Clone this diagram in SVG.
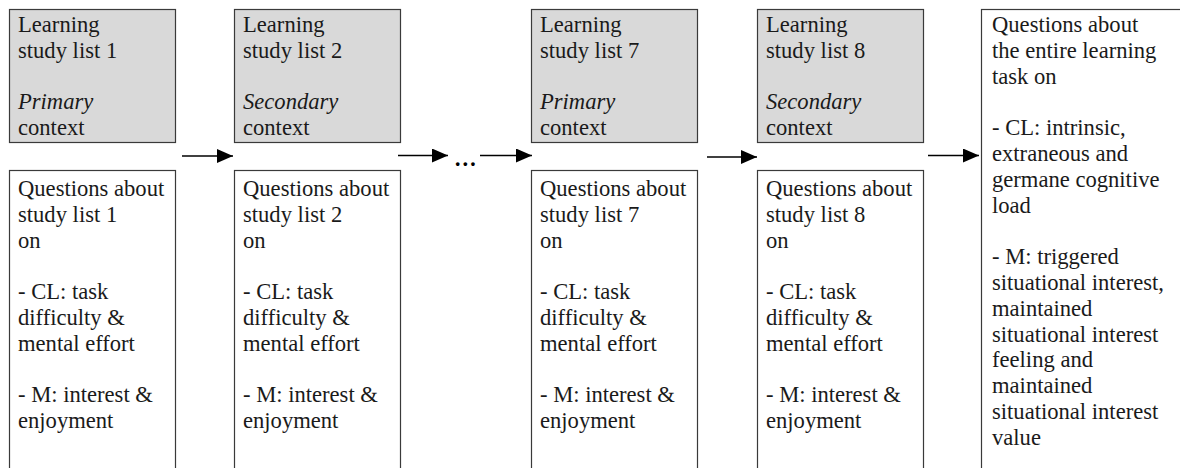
<svg xmlns="http://www.w3.org/2000/svg" width="1180" height="468" viewBox="0 0 1180 468">
<style>
.top{fill:#d9d9d9;stroke:#3a3a3a;stroke-width:1.2}
.bot{fill:#ffffff;stroke:#3a3a3a;stroke-width:1.2}
.t{font-family:'Liberation Serif','Times New Roman',Times,serif;font-size:22.6px;fill:#1a1a1a}
.it{font-style:italic}
.conn line{stroke:#000;stroke-width:1.6}
</style>
<defs>
<marker id="ah" markerUnits="userSpaceOnUse" markerWidth="16" markerHeight="14" refX="16" refY="7" orient="auto">
<path d="M0,0 L16,7 L0,14 Z" fill="#000"/>
</marker>
</defs>
<rect width="1180" height="468" fill="#fff"/>

<g id="node-list1" class="t" font-family="Liberation Serif, serif">
<rect class="top" x="9.5" y="9.5" width="166" height="133"/>
<text x="18" y="32">Learning</text>
<text x="18" y="57.8">study list 1</text>
<text x="18" y="109.4" class="it">Primary</text>
<text x="18" y="135.2">context</text>
</g>
<g id="node-q1" class="t" font-family="Liberation Serif, serif">
<rect class="bot" x="9.5" y="170.5" width="166" height="310"/>
<text x="18" y="196">Questions about</text>
<text x="18" y="221.8">study list 1</text>
<text x="18" y="247.6">on</text>
<text x="18" y="299.2">- CL: task</text>
<text x="18" y="325">difficulty &amp;</text>
<text x="18" y="350.8">mental effort</text>
<text x="18" y="402.4">- M: interest &amp;</text>
<text x="18" y="428.2">enjoyment</text>
</g>

<g id="node-list2" class="t" font-family="Liberation Serif, serif">
<rect class="top" x="234.5" y="9.5" width="166" height="133"/>
<text x="243" y="32">Learning</text>
<text x="243" y="57.8">study list 2</text>
<text x="243" y="109.4" class="it">Secondary</text>
<text x="243" y="135.2">context</text>
</g>
<g id="node-q2" class="t" font-family="Liberation Serif, serif">
<rect class="bot" x="234.5" y="170.5" width="166" height="310"/>
<text x="243" y="196">Questions about</text>
<text x="243" y="221.8">study list 2</text>
<text x="243" y="247.6">on</text>
<text x="243" y="299.2">- CL: task</text>
<text x="243" y="325">difficulty &amp;</text>
<text x="243" y="350.8">mental effort</text>
<text x="243" y="402.4">- M: interest &amp;</text>
<text x="243" y="428.2">enjoyment</text>
</g>

<g id="node-list7" class="t" font-family="Liberation Serif, serif">
<rect class="top" x="531.5" y="9.5" width="166" height="133"/>
<text x="540" y="32">Learning</text>
<text x="540" y="57.8">study list 7</text>
<text x="540" y="109.4" class="it">Primary</text>
<text x="540" y="135.2">context</text>
</g>
<g id="node-q7" class="t" font-family="Liberation Serif, serif">
<rect class="bot" x="531.5" y="170.5" width="166" height="310"/>
<text x="540" y="196">Questions about</text>
<text x="540" y="221.8">study list 7</text>
<text x="540" y="247.6">on</text>
<text x="540" y="299.2">- CL: task</text>
<text x="540" y="325">difficulty &amp;</text>
<text x="540" y="350.8">mental effort</text>
<text x="540" y="402.4">- M: interest &amp;</text>
<text x="540" y="428.2">enjoyment</text>
</g>

<g id="node-list8" class="t" font-family="Liberation Serif, serif">
<rect class="top" x="757.5" y="9.5" width="166" height="133"/>
<text x="766" y="32">Learning</text>
<text x="766" y="57.8">study list 8</text>
<text x="766" y="109.4" class="it">Secondary</text>
<text x="766" y="135.2">context</text>
</g>
<g id="node-q8" class="t" font-family="Liberation Serif, serif">
<rect class="bot" x="757.5" y="170.5" width="166" height="310"/>
<text x="766" y="196">Questions about</text>
<text x="766" y="221.8">study list 8</text>
<text x="766" y="247.6">on</text>
<text x="766" y="299.2">- CL: task</text>
<text x="766" y="325">difficulty &amp;</text>
<text x="766" y="350.8">mental effort</text>
<text x="766" y="402.4">- M: interest &amp;</text>
<text x="766" y="428.2">enjoyment</text>
</g>

<g id="node-final" class="t" font-family="Liberation Serif, serif">
<rect class="bot" x="981.5" y="9.5" width="220" height="480"/>
<text x="992" y="32">Questions about</text>
<text x="992" y="57.8">the entire learning</text>
<text x="992" y="83.6">task on</text>
<text x="992" y="135.2">- CL: intrinsic,</text>
<text x="992" y="161">extraneous and</text>
<text x="992" y="186.8">germane cognitive</text>
<text x="992" y="212.6">load</text>
<text x="992" y="264.2">- M: triggered</text>
<text x="992" y="290">situational interest,</text>
<text x="992" y="315.8">maintained</text>
<text x="992" y="341.6">situational interest</text>
<text x="992" y="367.4">feeling and</text>
<text x="992" y="393.2">maintained</text>
<text x="992" y="419">situational interest</text>
<text x="992" y="444.8">value</text>
</g>

<g id="connectors" class="conn">
<line x1="182" y1="156" x2="233" y2="156" marker-end="url(#ah)"/>
<line x1="398" y1="155.5" x2="448" y2="155.5" marker-end="url(#ah)"/>
<line x1="480" y1="155.5" x2="532" y2="155.5" marker-end="url(#ah)"/>
<line x1="707" y1="157" x2="757" y2="157" marker-end="url(#ah)"/>
<line x1="928" y1="155.5" x2="979" y2="155.5" marker-end="url(#ah)"/>
</g>
<text id="ellipsis" class="t" x="454" y="166" font-family="Liberation Serif, serif" font-weight="bold" style="fill:#000">…</text>
</svg>
